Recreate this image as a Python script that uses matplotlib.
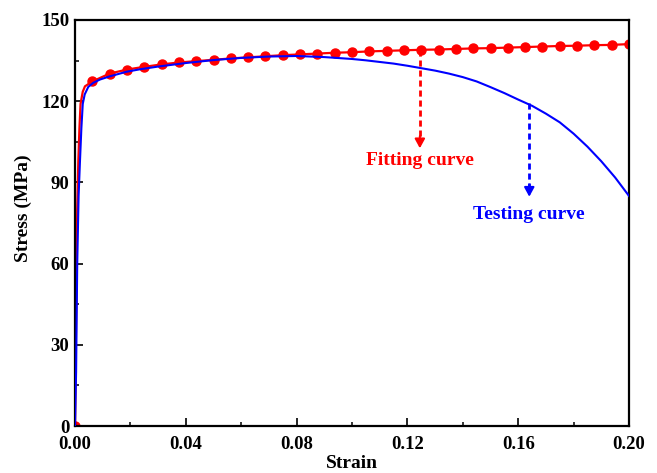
import matplotlib
matplotlib.use("Agg")
import matplotlib.pyplot as plt
from matplotlib.ticker import MultipleLocator

# ---------------- data ----------------
# Fitting curve: initial elastic segment (line only, origin marked)
fit_early_strain = [0.0, 0.0004, 0.0008, 0.0012, 0.0016, 0.0020, 0.0028, 0.0036, 0.00625]
fit_early_stress = [0.0, 40.0, 80.0, 98.0, 110.0, 119.0, 123.5, 125.5, 127.3]

# Fitting curve: marker points
fit_strain = [0.00625, 0.0125, 0.01875, 0.025, 0.03125, 0.0375, 0.04375,
              0.05, 0.05625, 0.0625, 0.06875, 0.075, 0.08125, 0.0875, 0.09375,
              0.1, 0.10625, 0.1125, 0.11875, 0.125, 0.13125, 0.1375, 0.14375,
              0.15, 0.15625, 0.1625, 0.16875, 0.175, 0.18125, 0.1875, 0.19375, 0.2]
fit_stress = [127.3, 130.2, 131.7, 132.7, 133.6, 134.3, 134.8,
              135.3, 135.8, 136.2, 136.6, 137.0, 137.3, 137.6, 137.9,
              138.1, 138.4, 138.6, 138.8, 139.0, 139.1, 139.3, 139.5,
              139.6, 139.8, 140.0, 140.2, 140.4, 140.5, 140.7, 140.8, 141.1]

# Testing curve
test_strain = [0.0, 0.0004, 0.0008, 0.0013, 0.0018, 0.0023, 0.0028, 0.0035, 0.0048,
               0.0066, 0.009, 0.0126, 0.0187, 0.0235, 0.03, 0.04, 0.05, 0.06, 0.07,
               0.08, 0.09, 0.10, 0.105, 0.11, 0.115, 0.12, 0.125, 0.13, 0.135,
               0.14, 0.145, 0.15, 0.155, 0.16, 0.165, 0.17, 0.175, 0.18, 0.185,
               0.19, 0.195, 0.2]
test_stress = [0.0, 20.0, 60.0, 85.0, 98.0, 110.0, 119.0, 122.5, 125.3,
               126.8, 128.0, 129.2, 130.9, 131.8, 132.8, 134.1, 135.2, 136.0, 136.5,
               136.7, 136.3, 135.6, 135.1, 134.5, 133.9, 133.1, 132.2, 131.3, 130.2,
               128.9, 127.3, 125.2, 123.0, 120.6, 118.3, 115.4, 112.2, 108.0, 103.2,
               97.8, 91.8, 85.0]

# Annotations
fit_label = "Fitting curve"
fit_arrow = (0.1245, 139.0, 102.6)
fit_text_pos = (0.1245, 98.0)
test_label = "Testing curve"
test_arrow = (0.1640, 119.2, 84.7)
test_text_pos = (0.1640, 78.0)

xticks = [0.00, 0.04, 0.08, 0.12, 0.16, 0.20]
yticks = [0, 30, 60, 90, 120, 150]

RED = "#ff0000"
BLUE = "#0000ff"

# ---------------- figure ----------------
plt.rcParams['font.family'] = ['Liberation Serif', 'DejaVu Serif']
plt.rcParams['font.weight'] = 'bold'

fig = plt.figure(figsize=(6.57, 4.73), dpi=100)
ax = fig.add_axes([75 / 657, 1 - 426 / 473, (629 - 75) / 657, (426 - 20) / 473])

ax.plot(fit_early_strain, fit_early_stress, color=RED, lw=1.6, marker='o',
        markersize=6.5, markevery=[0], zorder=2)
ax.plot(fit_strain, fit_stress, color=RED, lw=1.6, marker='o', markersize=6.5,
        markeredgecolor=RED, markerfacecolor=RED, zorder=2)
ax.plot(test_strain, test_stress, color=BLUE, lw=1.5, zorder=3)


def dashed_arrow(x, y0, y1, color):
    head = 4.5
    ax.plot([x, x], [y0, y1 + head * 0.6], color=color, lw=2.0,
            dashes=(2.2, 1.4), zorder=4)
    ax.annotate("", xy=(x, y1), xytext=(x, y1 + head),
                arrowprops=dict(arrowstyle='-|>,head_length=0.55,head_width=0.3',
                                color=color, lw=1.5, shrinkA=0, shrinkB=0),
                zorder=4)


dashed_arrow(fit_arrow[0], fit_arrow[1], fit_arrow[2], RED)
dashed_arrow(test_arrow[0], test_arrow[1], test_arrow[2], BLUE)

ax.text(fit_text_pos[0], fit_text_pos[1], fit_label, color=RED, fontsize=14,
        fontweight='bold', ha='center', va='center')
ax.text(test_text_pos[0], test_text_pos[1], test_label, color=BLUE, fontsize=14,
        fontweight='bold', ha='center', va='center')

ax.set_xlim(0, 0.2)
ax.set_ylim(0, 150)
ax.set_xticks(xticks)
ax.set_xticklabels([f"{t:.2f}" for t in xticks])
ax.set_yticks(yticks)
ax.set_yticklabels([str(t) for t in yticks])
ax.xaxis.set_minor_locator(MultipleLocator(0.02))
ax.yaxis.set_minor_locator(MultipleLocator(15))

ax.tick_params(which='major', direction='in', length=5.5, width=1.2,
               labelsize=13.5, pad=4)
ax.tick_params(which='minor', direction='in', length=3.2, width=1.1)
ax.tick_params(axis='x', which='major', pad=7)
for lab in ax.get_xticklabels() + ax.get_yticklabels():
    lab.set_fontweight('bold')
for sp in ax.spines.values():
    sp.set_linewidth(1.6)

ax.set_xlabel("Strain", fontsize=14, fontweight='bold')
ax.set_ylabel("Stress (MPa)", fontsize=14, fontweight='bold')
ax.xaxis.set_label_coords(0.5, -0.071)
ax.xaxis.label.set_va('top')
ax.yaxis.set_label_coords(-0.077, 0.537)

fig.savefig("out.png", dpi=100)
